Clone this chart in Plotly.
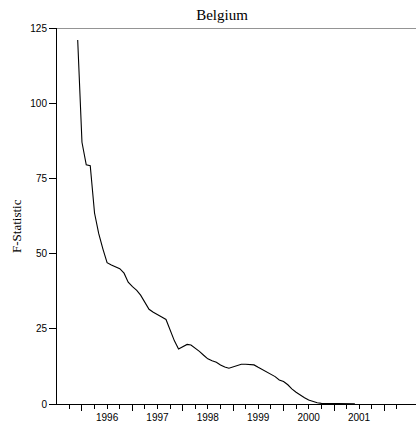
import pandas as pd
import plotly.graph_objects as go

# Monthly F-statistic, Dec 1995 .. Jun 2001
f_stat = [121.0, 87.0, 79.5, 79.2, 63.5, 56.7, 51.5, 47.0, 46.2, 45.5, 45.0, 43.5,
          40.5, 39.0, 37.8, 36.2, 33.7, 31.5, 30.5, 29.6, 28.9, 28.1, 24.3, 21.0,
          18.3, 19.0, 19.8, 19.6, 18.6, 17.5, 16.2, 15.0, 14.4, 13.9, 13.0, 12.3,
          11.9, 12.4, 12.8, 13.2, 13.2, 13.1, 13.0, 12.2, 11.4, 10.8, 10.1, 9.1,
          8.0, 7.5, 6.4, 5.0, 3.9, 2.9, 2.1, 1.3, 0.8, 0.4, 0.2, 0.15, 0.1, 0.1,
          0.1, 0.1, 0.1, 0.08, 0.05]
start_month = "1995-12-01"
months = pd.date_range(start_month, periods=len(f_stat), freq="MS")

year_labels = ["1996", "1997", "1998", "1999", "2000", "2001"]
year_ticks = ["1996-01-01", "1997-01-01", "1998-01-01", "1999-01-01",
              "2000-01-01", "2001-01-01", "2002-01-01"]
label_pos = [y + "-07-01" for y in year_labels]
quarter_ticks = pd.date_range("1995-10-01", "2002-04-01", freq="QS").strftime("%Y-%m-%d").tolist()
quarter_ticks = [q for q in quarter_ticks if q not in year_ticks]
y_ticks = [0, 25, 50, 75, 100, 125]

x_range = ["1995-07-04", "2002-08-18"]

fig = go.Figure()
fig.add_trace(go.Scatter(x=months, y=f_stat, mode="lines",
                         line=dict(color="black", width=1.1), showlegend=False))
# invisible trace on overlay axis to carry labels
fig.add_trace(go.Scatter(x=[months[0]], y=[None], xaxis="x2", showlegend=False,
                         hoverinfo="skip"))

fig.update_layout(
    width=416, height=425,
    margin=dict(l=57, r=0, t=28, b=21),
    plot_bgcolor="white", paper_bgcolor="white",
    title=dict(text="Belgium", x=222 / 416, xref="container", xanchor="center",
               y=1 - 15 / 425, yanchor="middle",
               font=dict(family="Liberation Serif", size=15, color="black")),
    xaxis=dict(type="date", range=x_range, showgrid=False, zeroline=False,
               showline=True, linecolor="black", linewidth=1,
               tickmode="array", tickvals=year_ticks, ticks="outside",
               ticklen=6, tickcolor="black", tickwidth=1, showticklabels=False,
               minor=dict(tickmode="array", tickvals=quarter_ticks, ticks="outside",
                          ticklen=3.5, tickcolor="black", tickwidth=1, showgrid=False)),
    xaxis2=dict(type="date", range=x_range, overlaying="x", anchor="y", side="bottom",
                showgrid=False, zeroline=False, showline=False,
                tickmode="array", tickvals=label_pos, ticktext=year_labels,
                ticks="outside", ticklen=4, tickcolor="rgba(0,0,0,0)",
                tickfont=dict(family="Liberation Sans", size=10, color="black")),
    yaxis=dict(range=[0, 125], showgrid=False, zeroline=False,
               showline=True, linecolor="black", linewidth=1,
               tickmode="array", tickvals=y_ticks, ticks="outside", ticklen=7,
               tickcolor="black", tickwidth=1,
               tickfont=dict(family="Liberation Sans", size=10, color="black")),
    shapes=[dict(type="line", xref="paper", yref="y", x0=0, x1=1, y0=125, y1=125,
                 line=dict(color="#707070", width=1.3))],
    annotations=[dict(text="F-Statistic", xref="paper", yref="paper",
                      x=(16 - 57) / 359, y=(404 - 226) / 376,
                      xanchor="center", yanchor="middle", textangle=-90,
                      showarrow=False,
                      font=dict(family="Liberation Serif", size=13, color="black"))],
)

fig.write_html("out.html", config={"displayModeBar": False},
               post_script="document.body.style.margin='0';document.body.style.overflow='hidden';")
